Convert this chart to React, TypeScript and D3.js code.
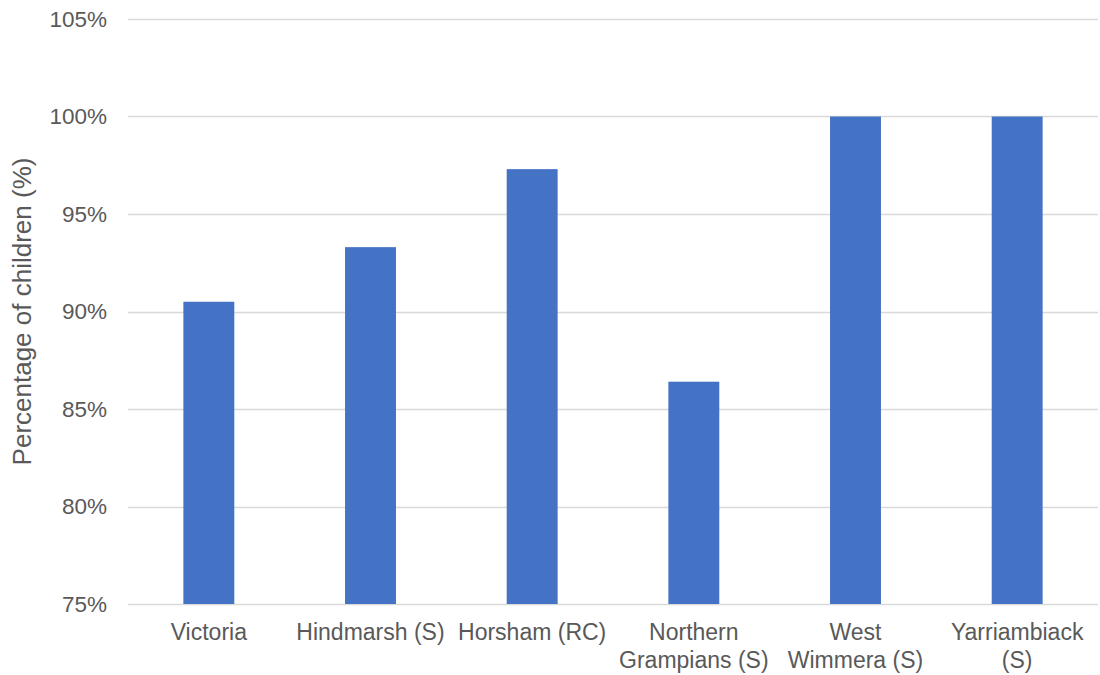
import React from "react";
import * as d3 from "d3";

const categories: string[][] = [
  ["Victoria"],
  ["Hindmarsh (S)"],
  ["Horsham (RC)"],
  ["Northern", "Grampians (S)"],
  ["West", "Wimmera (S)"],
  ["Yarriambiack", "(S)"],
];
const values: number[] = [90.5, 93.3, 97.3, 86.4, 100, 100];
const yTicks: number[] = [75, 80, 85, 90, 95, 100, 105];
const yTitle = "Percentage of children (%)";

const W = 1100;
const H = 675;
const margin = { left: 128, right: 2, top: 19, bottom: 71 };

export default function App() {
  const x = d3
    .scaleBand<number>()
    .domain(categories.map((_, i) => i))
    .range([margin.left, W - margin.right])
    .paddingInner(0.685)
    .paddingOuter(0.3425);
  const y = d3
    .scaleLinear()
    .domain([75, 105])
    .range([H - margin.bottom, margin.top]);
  const font = "'Liberation Sans', Arial, sans-serif";
  return (
    <svg
      width={W}
      height={H}
      style={{ position: "absolute", left: 0, top: 0, background: "#fff" }}
      fontFamily={font}
    >
      {yTicks.map((t) => (
        <g key={t}>
          <line
            x1={margin.left}
            x2={W - margin.right}
            y1={Math.round(y(t)) + 0.5}
            y2={Math.round(y(t)) + 0.5}
            stroke="#d9d9d9"
            strokeWidth={1.5}
          />
          <text
            x={107}
            y={y(t)}
            dy="0.35em"
            textAnchor="end"
            fontSize={22.5}
            fill="#595959"
          >
            {t}%
          </text>
        </g>
      ))}
      {values.map((v, i) => (
        <rect
          key={i}
          x={x(i)!}
          width={x.bandwidth()}
          y={y(v)}
          height={y(75) - y(v)}
          fill="#4472c4"
        />
      ))}
      {categories.map((lines, i) => (
        <text
          key={i}
          x={x(i)! + x.bandwidth() / 2}
          y={640}
          textAnchor="middle"
          fontSize={23}
          fill="#595959"
        >
          {lines.map((l, j) => (
            <tspan key={j} x={x(i)! + x.bandwidth() / 2} dy={j === 0 ? 0 : 28}>
              {l}
            </tspan>
          ))}
        </text>
      ))}
      <text
        transform={`translate(31, ${(margin.top + H - margin.bottom) / 2}) rotate(-90)`}
        textAnchor="middle"
        fontSize={26}
        fill="#595959"
      >
        {yTitle}
      </text>
    </svg>
  );
}
